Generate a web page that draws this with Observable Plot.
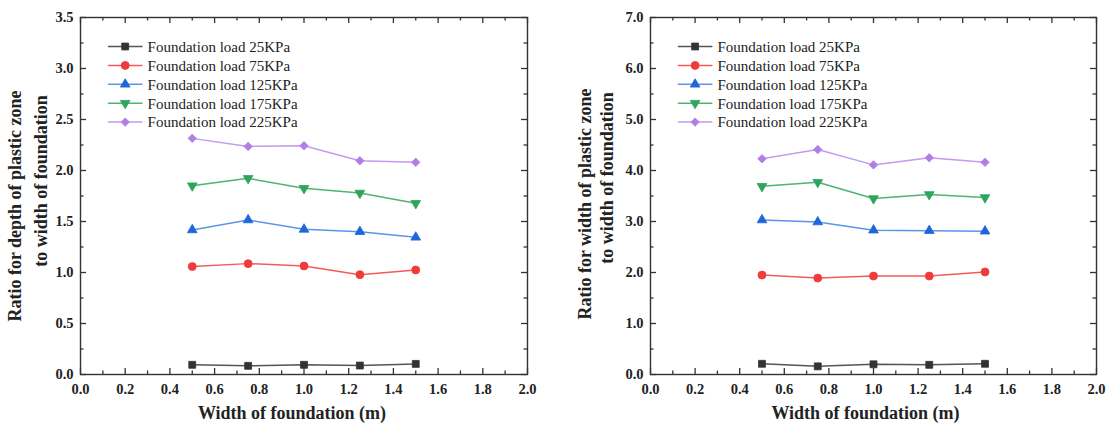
<!DOCTYPE html>
<html>
<head>
<meta charset="utf-8">
<script src="https://cdn.jsdelivr.net/npm/d3@7"></script>
<script src="https://cdn.jsdelivr.net/npm/@observablehq/plot@0.6"></script>
<style>
  html, body { margin: 0; padding: 0; background: #fff; }
  #wrap { position: relative; width: 1107px; height: 427px; overflow: hidden; }
  #left, #right { position: absolute; top: 0; }
  #left { left: 0; }
  #right { left: 553px; }
  #wrap svg, #wrap svg text { font-family: 'Liberation Serif', 'Times New Roman', serif !important; }
</style>
</head>
<body>
<div id="wrap"><div id="left"></div><div id="right"></div></div>
<script>
// ---- data ----
const foundationWidth = [0.5, 0.75, 1.0, 1.25, 1.5];
const loadLabels = ["Foundation load 25KPa", "Foundation load 75KPa", "Foundation load 125KPa", "Foundation load 175KPa", "Foundation load 225KPa"];

// Ratio for depth of plastic zone to width of foundation
const depth25 = [0.095, 0.085, 0.095, 0.088, 0.104];
const depth75 = [1.058, 1.087, 1.064, 0.979, 1.025];
const depth125 = [1.417, 1.515, 1.423, 1.400, 1.345];
const depth175 = [1.851, 1.923, 1.825, 1.779, 1.678];
const depth225 = [2.315, 2.236, 2.243, 2.096, 2.080];

// Ratio for width of plastic zone to width of foundation
const width25 = [0.21, 0.16, 0.20, 0.19, 0.21];
const width75 = [1.95, 1.89, 1.93, 1.93, 2.01];
const width125 = [3.03, 2.99, 2.83, 2.82, 2.81];
const width175 = [3.69, 3.77, 3.45, 3.53, 3.47];
const width225 = [4.23, 4.41, 4.11, 4.25, 4.16];

const xTickLabels = ["0.0", "0.2", "0.4", "0.6", "0.8", "1.0", "1.2", "1.4", "1.6", "1.8", "2.0"];
const yTickLabelsLeft = ["0.0", "0.5", "1.0", "1.5", "2.0", "2.5", "3.0", "3.5"];
const yTickLabelsRight = ["0.0", "1.0", "2.0", "3.0", "4.0", "5.0", "6.0", "7.0"];

// ---- styles ----
const markerColors = ["#333333", "#f03b3b", "#1f66da", "#2ea55c", "#b07ee6"];
const lineColors = ["#555555", "#f45a5a", "#5a95ea", "#4fb374", "#c29bef"];
const symbols = ["square", "circle", "triangle", "triangle", "diamond2"];
const rotations = [0, 0, 0, 180, 0];
const radii = [3.9, 4.0, 3.6, 3.6, 3.8];
const FONT = "'Liberation Serif', 'Times New Roman', serif";

function makeChart({series, yMax, yMajorStep, yMinorStep, yTicks, title1, title2, width, mLeft, mRight, t1, t2, xLabelDx}) {
  const mTop = 17, mBottom = 53, height = 427;
  const frameW = width - mLeft - mRight;
  const frameH = height - mTop - mBottom;
  const xMajor = xTickLabels.map(Number);
  const xMinor = d3.range(0, 2.0001, 0.1).filter(v => Math.abs(Math.round(v * 5) - v * 5) > 1e-6);
  const yMajor = yTicks.map(Number);
  const yMinor = d3.range(0, yMax + 1e-9, yMinorStep).filter(v => Math.abs(Math.round(v / yMajorStep) - v / yMajorStep) > 1e-6);

  const rows = [];
  series.forEach((vals, i) => vals.forEach((v, j) => rows.push({x: foundationWidth[j], y: v, s: i})));

  const marks = [];
  // inward ticks on four sides
  const MAJ = 6, MIN = 3.5;
  const tk = {stroke: "#333", strokeWidth: 1.3};
  marks.push(Plot.tickX(xMajor, {x: d => d, insetTop: frameH - MAJ, ...tk}));
  marks.push(Plot.tickX(xMinor, {x: d => d, insetTop: frameH - MIN, ...tk}));
  marks.push(Plot.tickX(xMajor, {x: d => d, insetBottom: frameH - MAJ, ...tk}));
  marks.push(Plot.tickX(xMinor, {x: d => d, insetBottom: frameH - MIN, ...tk}));
  marks.push(Plot.tickY(yMajor, {y: d => d, insetRight: frameW - MAJ, ...tk}));
  marks.push(Plot.tickY(yMinor, {y: d => d, insetRight: frameW - MIN, ...tk}));
  marks.push(Plot.tickY(yMajor, {y: d => d, insetLeft: frameW - MAJ, ...tk}));
  marks.push(Plot.tickY(yMinor, {y: d => d, insetLeft: frameW - MIN, ...tk}));
  marks.push(Plot.frame({stroke: "#333", strokeWidth: 1.4}));

  marks.push(Plot.axisX(xMajor, {tickSize: 0, tickPadding: 9, tickFormat: (d, i) => xTickLabels[i], fontSize: 14.5, fontWeight: "bold", fontFamily: FONT, fill: "#222", label: null}));
  marks.push(Plot.axisY(yMajor, {tickSize: 0, tickPadding: 7, tickFormat: (d, i) => yTicks[i], fontSize: 14.5, fontWeight: "bold", fontFamily: FONT, fill: "#222", label: null}));

  // series
  series.forEach((vals, i) => {
    const d = rows.filter(r => r.s === i);
    marks.push(Plot.line(d, {x: "x", y: "y", stroke: lineColors[i], strokeWidth: 1.5}));
    marks.push(Plot.dot(d, {x: "x", y: "y", symbol: symbols[i], r: radii[i], fill: markerColors[i], stroke: markerColors[i], strokeWidth: 0.8, rotate: rotations[i]}));
  });

  // legend (data coordinates)
  loadLabels.forEach((lab, i) => {
    const yv = yMax * (1 - (29 + i * 18.9) / frameH);
    marks.push(Plot.line([{x: 0.125, y: yv}, {x: 0.275, y: yv}], {x: "x", y: "y", stroke: lineColors[i], strokeWidth: 1.5}));
    marks.push(Plot.dot([{x: 0.2, y: yv}], {x: "x", y: "y", symbol: symbols[i], r: radii[i], fill: markerColors[i], stroke: markerColors[i], strokeWidth: 0.8, rotate: rotations[i]}));
    marks.push(Plot.text([{x: 0.3, y: yv, t: lab}], {x: "x", y: "y", text: "t", textAnchor: "start", fontSize: 15, fontFamily: FONT, fill: "#222", dy: 0.5}));
  });

  // axis titles
  const tt = {text: d => d, textAnchor: "middle", lineAnchor: "middle", fontSize: 18, fontWeight: "bold", fontFamily: FONT, fill: "#222"};
  marks.push(Plot.text([title1], {frameAnchor: "left", rotate: -90, dx: t1[0], dy: t1[1], ...tt}));
  marks.push(Plot.text([title2], {frameAnchor: "left", rotate: -90, dx: t2[0], dy: t2[1], ...tt}));
  marks.push(Plot.text(["Width of foundation (m)"], {frameAnchor: "bottom", dx: xLabelDx, dy: 39, ...tt}));

  return Plot.plot({
    width, height,
    marginLeft: mLeft, marginRight: mRight, marginTop: mTop, marginBottom: mBottom,
    style: {fontFamily: FONT, background: "#fff", overflow: "visible"},
    x: {domain: [0, 2], axis: null},
    y: {domain: [0, yMax], axis: null},
    marks
  });
}

document.getElementById("left").appendChild(makeChart({
  series: [depth25, depth75, depth125, depth175, depth225],
  yMax: 3.5, yMajorStep: 0.5, yMinorStep: 0.25, yTicks: yTickLabelsLeft,
  title1: "Ratio for depth of plastic zone", title2: "to width of foundation",
  width: 553, mLeft: 80, mRight: 26,
  t1: [-65, 10], t2: [-39, -15], xLabelDx: -12
}));
document.getElementById("right").appendChild(makeChart({
  series: [width25, width75, width125, width175, width225],
  yMax: 7, yMajorStep: 1, yMinorStep: 0.5, yTicks: yTickLabelsRight,
  title1: "Ratio for width of plastic zone", title2: "to width of foundation",
  width: 554, mLeft: 97, mRight: 11,
  t1: [-65, 8], t2: [-43, -18], xLabelDx: -8
}));
</script>
</body>
</html>
